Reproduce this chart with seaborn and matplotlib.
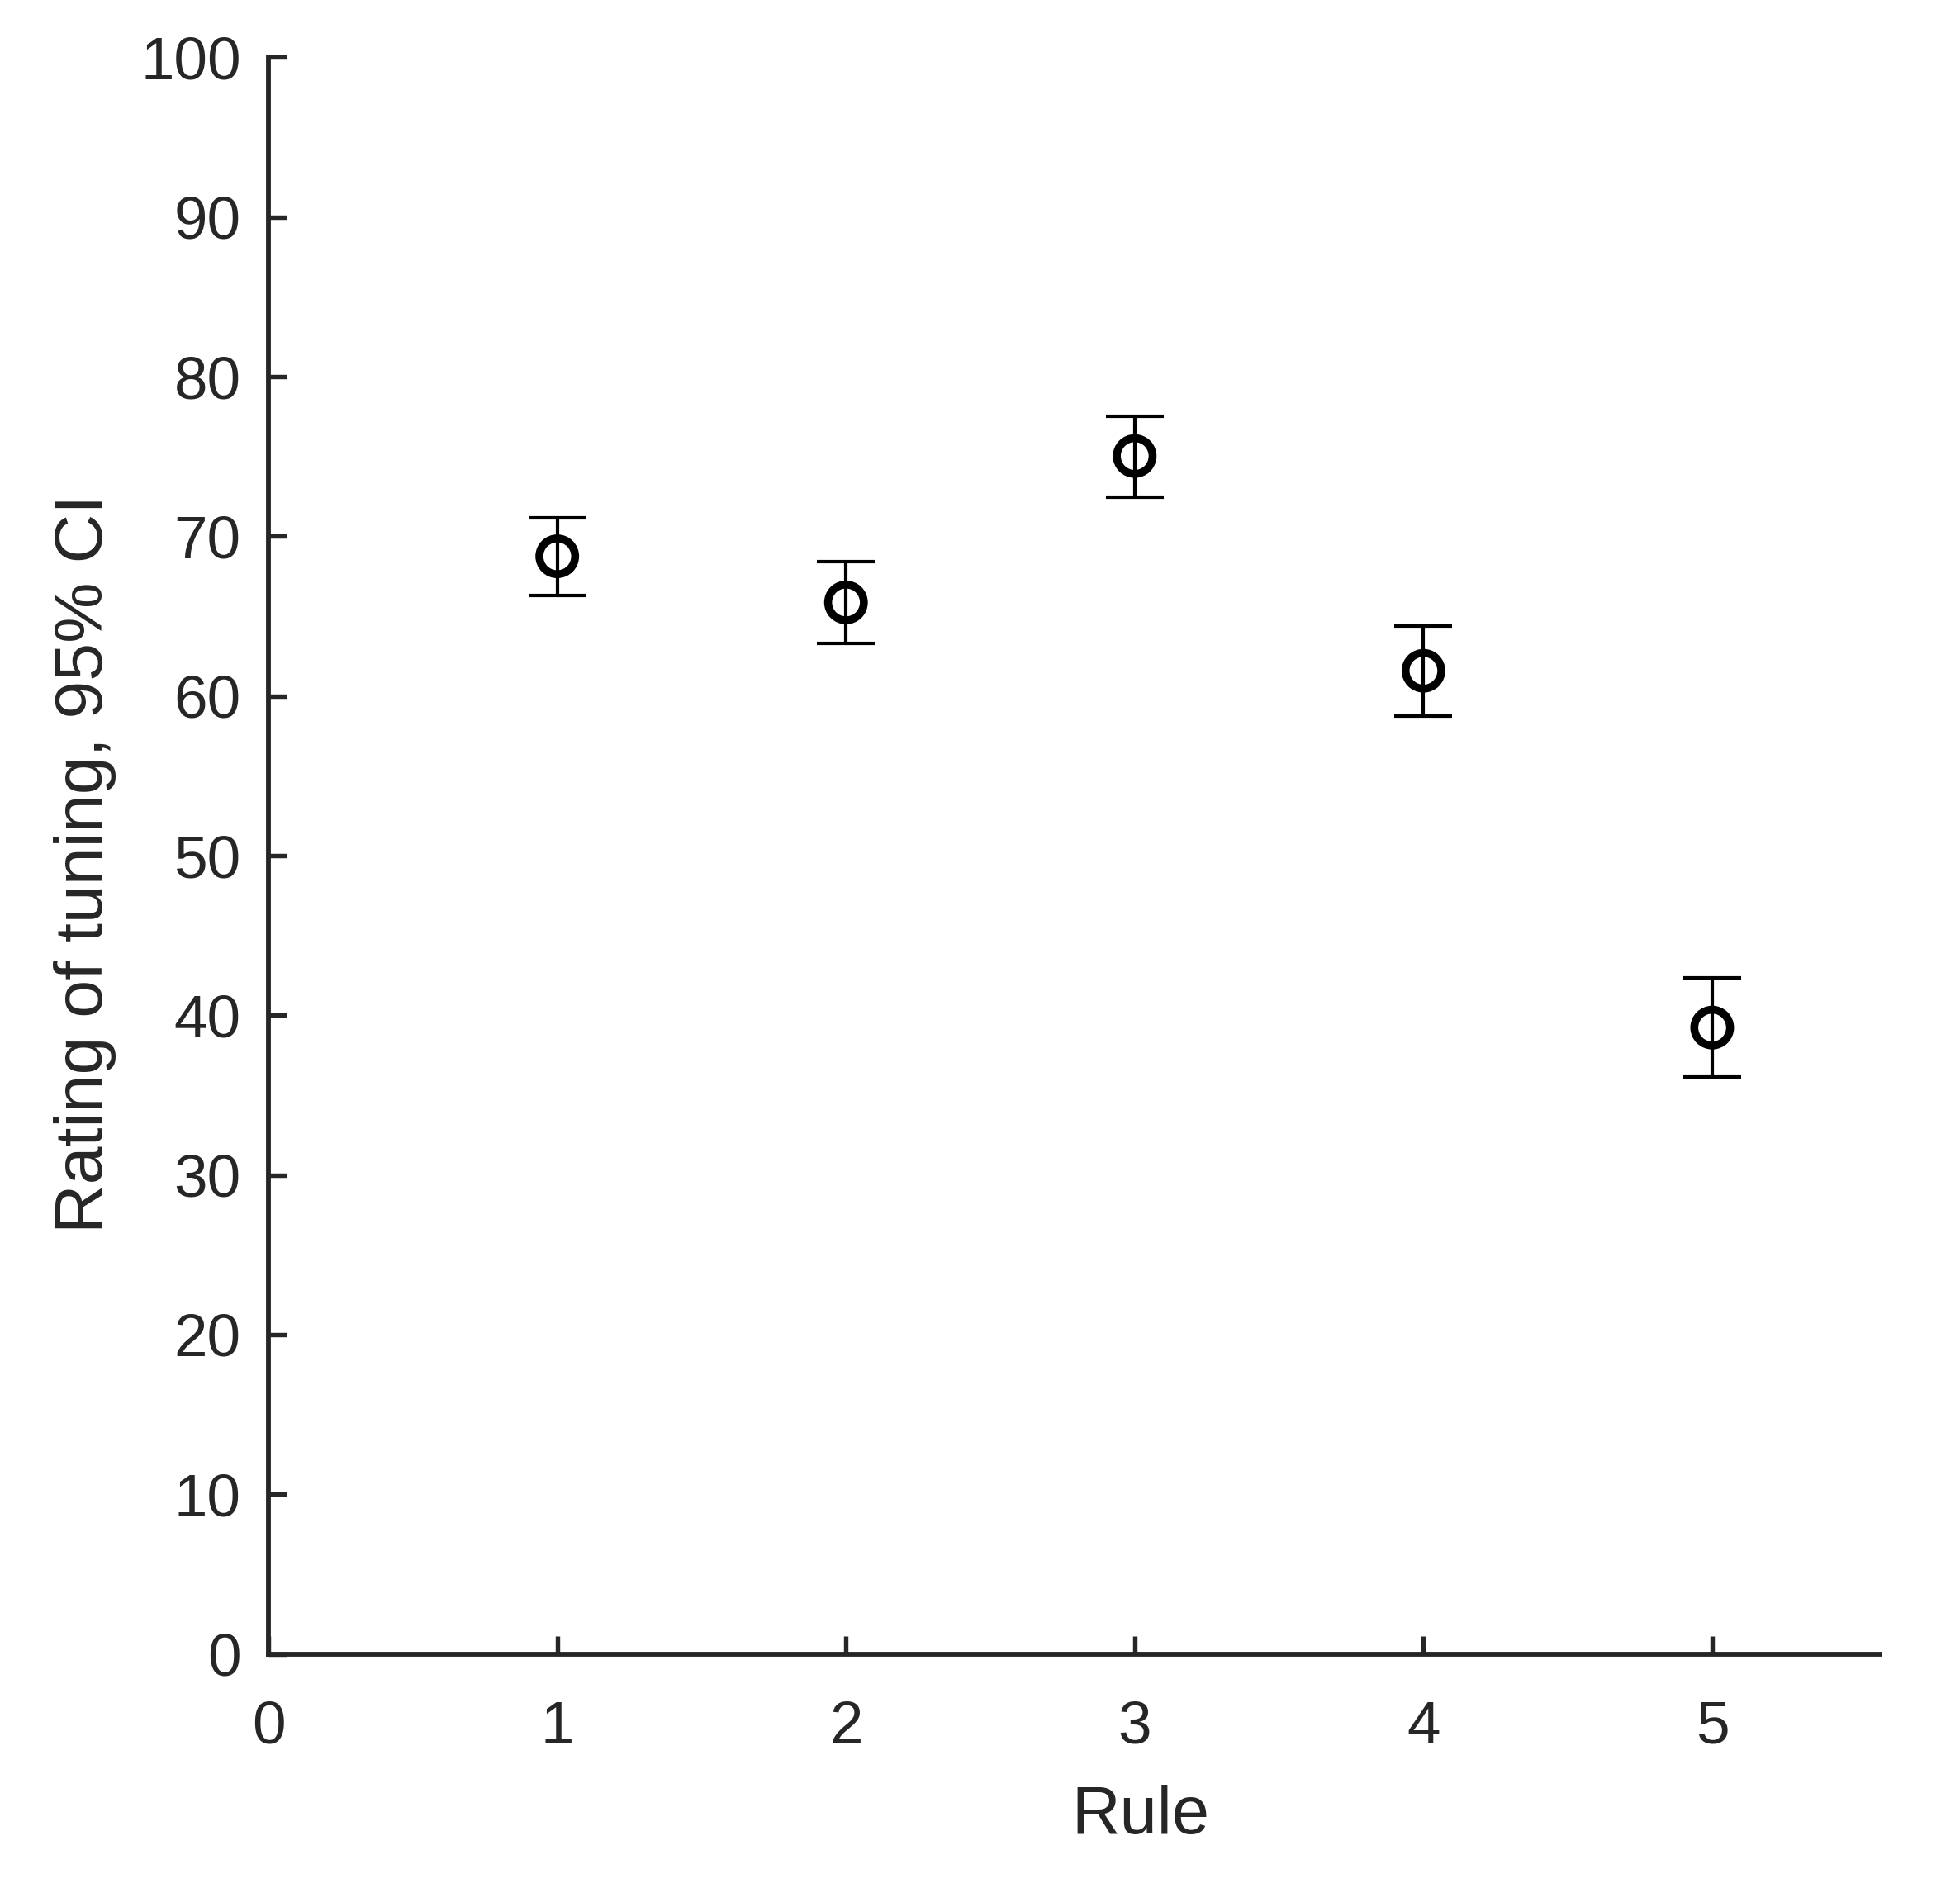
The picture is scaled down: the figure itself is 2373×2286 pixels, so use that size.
import matplotlib
matplotlib.use("Agg")
import matplotlib.pyplot as plt
import seaborn as sns
import numpy as np
import pandas as pd

rules = [1, 2, 3, 4, 5]
means = [68.75, 65.86, 75.03, 61.58, 39.23]
ci_upper = [71.17, 68.43, 77.51, 64.39, 42.33]
ci_lower = [66.29, 63.29, 72.46, 58.76, 36.14]
x_ticks = [0, 1, 2, 3, 4, 5]
y_ticks = [0, 10, 20, 30, 40, 50, 60, 70, 80, 90, 100]

sns.set_theme(style="ticks")
plt.rcParams['font.family'] = ['Liberation Sans', 'DejaVu Sans']
text_col = "#262626"

df = pd.DataFrame({"Rule": rules, "mean": means, "lo": ci_lower, "hi": ci_upper})

fig = plt.figure(figsize=(2373/300, 2286/300), dpi=300)
ax = fig.add_axes([0.137, 0.124, 0.822, 0.8456])

yerr = np.vstack([df["mean"] - df["lo"], df["hi"] - df["mean"]])
ax.errorbar(df["Rule"], df["mean"], yerr=yerr, fmt="none", ecolor="black",
            elinewidth=1.0, capsize=8.5, capthick=1.0, zorder=3)
sns.scatterplot(data=df, x="Rule", y="mean", ax=ax, marker="o", s=108,
                facecolor="none", edgecolor="black", linewidth=2.3, zorder=4)

ax.set_xlim(0, 5.58)
ax.set_ylim(0, 100)
ax.set_xticks(x_ticks)
ax.set_yticks(y_ticks)
ax.tick_params(direction="in", length=5.2, width=1.3, colors=text_col,
               labelsize=17.5, pad=8)
ax.tick_params(axis="x", pad=13.5)
for s in ["top", "right"]:
    ax.spines[s].set_visible(False)
for s in ["left", "bottom"]:
    ax.spines[s].set_linewidth(1.4)
    ax.spines[s].set_color(text_col)

ax.set_xlabel("Rule", fontsize=19.5, color=text_col, labelpad=9)
ax.xaxis.set_label_coords(3.02 / 5.58, -0.082)
ax.set_ylabel("Rating of tuning, 95% CI", fontsize=19.8, color=text_col, labelpad=7)
ax.yaxis.label.set_y(0.495)

fig.savefig("out.png", dpi=300)
